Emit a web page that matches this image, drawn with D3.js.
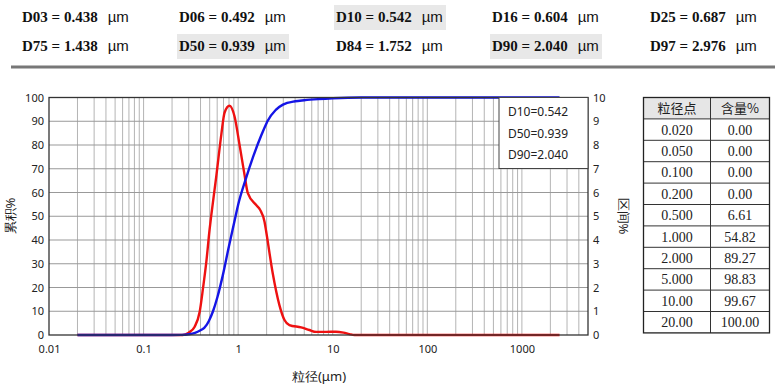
<!DOCTYPE html>
<html><head><meta charset="utf-8">
<script src="https://cdn.jsdelivr.net/npm/d3@7"></script>
<style>
body{margin:0;background:#fff;}
svg{display:block;}
</style></head>
<body>
<svg id="c" width="780" height="388"></svg>
<script>
// ---- data ----
const statLabels = ["D03","D06","D10","D16","D25","D75","D50","D84","D90","D97"];
const statValues = ["0.438","0.492","0.542","0.604","0.687","1.438","0.939","1.752","2.040","2.976"];
const statHighlight = ["D10","D50","D90"];

const xTicks = [0.01, 0.1, 1, 10, 100, 1000];
const yLeftTicks = [0,10,20,30,40,50,60,70,80,90,100];
const yRightTicks = [0,1,2,3,4,5,6,7,8,9,10];

// cumulative (blue, left axis %)
const cumSize = [0.02,0.1,0.2,0.25,0.3,0.35,0.4,0.438,0.492,0.5,0.542,0.604,0.687,0.8,0.939,1.0,1.2,1.438,1.752,2.0,2.04,2.5,2.976,4,5,7,10,20,50,2500];
const cumVal  = [0,0,0,0.05,0.3,0.9,2,3,6,6.61,10,16,25,37.5,50,54.82,65.5,75,84,89.27,90,94.8,97,98.4,98.83,99.3,99.67,100,100,100];

// frequency (red, right axis %)
const freqSize = [0.02,0.1,0.2,0.26,0.30,0.347,0.392,0.425,0.461,0.499,0.52,0.588,0.664,0.719,0.811,0.916,1.035,1.168,1.265,1.552,1.71,1.90,1.98,2.32,2.73,3.09,3.48,4.63,5.66,6.66,8.5,10.8,13,15,17,20,100,2500];
const freqVal  = [0,0,0,0,0.1,0.35,0.98,1.97,3.09,4.45,5.05,6.7,8.45,9.37,9.65,9.2,8.0,6.74,5.97,5.47,5.26,4.77,4.35,2.6,1.26,0.63,0.42,0.32,0.21,0.13,0.13,0.14,0.1,0.04,0,0,0,0];

const tableHead = ["粒径点","含量%"];
const tableSize = ["0.020","0.050","0.100","0.200","0.500","1.000","2.000","5.000","10.00","20.00"];
const tableCum  = ["0.00","0.00","0.00","0.00","6.61","54.82","89.27","98.83","99.67","100.00"];

const legendLines = ["D10=0.542","D50=0.939","D90=2.040"];

// ---- drawing ----
const svg = d3.select("#c");
const sans = "'Noto Sans','Open Sans',sans-serif";
const serif = "'Liberation Serif','Times New Roman',serif";

// header stats
const colX = [22,179,336,492,650];
const rowY = [17,46];
statLabels.forEach((lab,i)=>{
  const col = i%5, row = Math.floor(i/5);
  const x = colX[col], y = rowY[row];
  if (statHighlight.includes(lab)) {
    svg.append("rect").attr("x",x-2).attr("y",y-12).attr("width",112).attr("height",25).attr("fill","#e8e8e8");
  }
  const t = svg.append("text").attr("x",x).attr("y",y).attr("dy","0.35em")
    .attr("font-family",serif).attr("font-size",15).attr("font-weight","bold").attr("fill","#111")
    .text(lab+" = "+statValues[i]);
  const w = t.node().getComputedTextLength();
  svg.append("text").attr("x",x+w+10).attr("y",y).attr("dy","0.35em")
    .attr("font-family","'Liberation Sans',Arial,sans-serif").attr("font-size",15).attr("fill","#111").text("µm");
});
svg.append("line").attr("x1",11).attr("x2",775).attr("y1",67).attr("y2",67)
  .attr("stroke","#777").attr("stroke-width",3);

// chart
const L=49, R=588, T=97.5, B=335;
const x = d3.scaleLog().domain([0.01,5000]).range([L,R]);
const yL = d3.scaleLinear().domain([0,100]).range([B,T]);
const yR = d3.scaleLinear().domain([0,10]).range([B,T]);

const g = svg.append("g");
// minor vertical grid
const vgrid = [];
for (let e=-2;e<=3;e++) for (let m=1;m<=9;m++){ const v=m*Math.pow(10,e); if(v>0.01 && v<5000) vgrid.push(v); }
g.selectAll(".vg").data(vgrid).enter().append("line")
  .attr("x1",d=>x(d)).attr("x2",d=>x(d)).attr("y1",T).attr("y2",B)
  .attr("stroke","#b4b4b4").attr("stroke-width",1);
g.selectAll(".hg").data(yLeftTicks.slice(1,-1)).enter().append("line")
  .attr("x1",L).attr("x2",R).attr("y1",d=>yL(d)).attr("y2",d=>yL(d))
  .attr("stroke","#999").attr("stroke-width",1);

// curves
const lineFreq = d3.line().x((d,i)=>x(freqSize[i])).y(d=>yR(d)).curve(d3.curveMonotoneX);
const lineCum = d3.line().x((d,i)=>x(cumSize[i])).y(d=>yL(d)).curve(d3.curveMonotoneX);
g.append("path").attr("d",lineFreq(freqVal)).attr("fill","none").attr("stroke","#ee1111").attr("stroke-width",2.4);
g.append("path").attr("d",lineCum(cumVal)).attr("fill","none").attr("stroke","#1515e6").attr("stroke-width",2.4);

// frame
g.append("rect").attr("x",L).attr("y",T).attr("width",R-L).attr("height",B-T)
  .attr("fill","none").attr("stroke","#333").attr("stroke-width",1.3);

// axes
const ax = svg.append("g").attr("transform",`translate(0,${B})`)
  .call(d3.axisBottom(x).tickValues(xTicks).tickSize(0).tickPadding(10).tickFormat(d3.format("~g")));
const ayl = svg.append("g").attr("transform",`translate(${L},0)`)
  .call(d3.axisLeft(yL).tickValues(yLeftTicks).tickSize(0).tickPadding(5));
const ayr = svg.append("g").attr("transform",`translate(${R},0)`)
  .call(d3.axisRight(yR).tickValues(yRightTicks).tickSize(0).tickPadding(5));
[ax,ayl,ayr].forEach(a=>{
  a.select(".domain").remove();
  a.selectAll("text").attr("font-family",sans).attr("font-size",11).attr("fill","#222");
});

// legend box
const lg = svg.append("g");
lg.append("rect").attr("x",499).attr("y",T).attr("width",R-499).attr("height",71)
  .attr("fill","#fff").attr("stroke","#444").attr("stroke-width",1);
legendLines.forEach((s,i)=>{
  lg.append("text").attr("x",508).attr("y",112+i*21.5).attr("dy","0.35em")
    .attr("font-family",sans).attr("font-size",12).attr("fill","#222").text(s);
});

// axis titles
svg.append("text").attr("x",319).attr("y",376).attr("dy","0.35em").attr("text-anchor","middle")
  .attr("font-family",sans).attr("font-size",13).attr("fill","#222").text("粒径(μm)");
svg.append("text").attr("transform",`translate(10,216) rotate(-90)`).attr("dy","0.35em").attr("text-anchor","middle")
  .attr("font-family",sans).attr("font-size",13).attr("fill","#222").text("累积%");
svg.append("text").attr("transform",`translate(624,216) rotate(90)`).attr("dy","0.35em").attr("text-anchor","middle")
  .attr("font-family",sans).attr("font-size",13).attr("fill","#222").text("区间%");

// table
const tx0=643.5, tx1=710.5, tx2=769.5, ty0=97.5, rh=21.4;
const tg = svg.append("g");
tg.append("rect").attr("x",tx0).attr("y",ty0).attr("width",tx2-tx0).attr("height",rh).attr("fill","#e6e6e6");
const rows = [tableHead].concat(tableSize.map((s,i)=>[s,tableCum[i]]));
rows.forEach((r,i)=>{
  const cy = ty0 + rh*i + rh/2;
  const fam = i===0 ? "'Noto Sans CJK SC',serif" : serif;
  const fs = i===0 ? 13 : 14;
  tg.append("text").attr("x",(tx0+tx1)/2).attr("y",cy).attr("dy","0.35em").attr("text-anchor","middle")
    .attr("font-family",fam).attr("font-size",fs).attr("fill","#222").text(r[0]);
  tg.append("text").attr("x",(tx1+tx2)/2).attr("y",cy).attr("dy","0.35em").attr("text-anchor","middle")
    .attr("font-family",fam).attr("font-size",fs).attr("fill","#222").text(r[1]);
  if (i>0) tg.append("line").attr("x1",tx0).attr("x2",tx2).attr("y1",ty0+rh*i).attr("y2",ty0+rh*i).attr("stroke","#333").attr("stroke-width",1);
});
tg.append("line").attr("x1",tx1).attr("x2",tx1).attr("y1",ty0).attr("y2",ty0+rh*rows.length).attr("stroke","#333").attr("stroke-width",1);
tg.append("rect").attr("x",tx0).attr("y",ty0).attr("width",tx2-tx0).attr("height",rh*rows.length)
  .attr("fill","none").attr("stroke","#222").attr("stroke-width",1.3);
</script>
</body></html>
